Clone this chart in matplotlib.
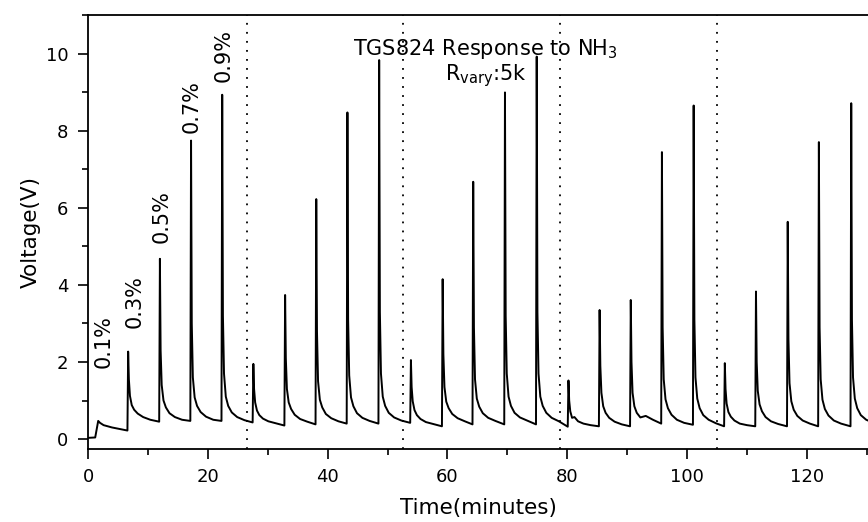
import matplotlib
matplotlib.use("Agg")
import matplotlib.pyplot as plt
from matplotlib.ticker import MultipleLocator

# warm-up segment before the first gas pulse
start_time = [0.0, 1.2, 1.7, 2.0, 2.6, 4.0, 6.5]
start_volt = [0.03, 0.04, 0.47, 0.42, 0.36, 0.30, 0.22]

# gas pulses: time of peak (min), peak voltage, level just before the rise
pulse_time = [6.7, 12.0, 17.2, 22.4, 27.6, 32.9, 38.1, 43.3, 48.6, 53.9, 59.2, 64.3,
              69.6, 74.9, 80.2, 85.4, 90.6, 95.8, 101.1, 106.3, 111.5, 116.8, 122.0, 127.4]
pulse_peak = [2.27, 4.68, 7.75, 8.94, 1.95, 3.74, 6.23, 8.48, 9.84, 2.05, 4.15, 6.68,
              9.00, 9.93, 1.52, 3.35, 3.61, 7.45, 8.66, 1.97, 3.83, 5.64, 7.71, 8.72]
pulse_base = [0.22, 0.45, 0.47, 0.47, 0.43, 0.35, 0.38, 0.40, 0.40, 0.42, 0.33, 0.38,
              0.38, 0.38, 0.32, 0.33, 0.33, 0.40, 0.37, 0.33, 0.33, 0.33, 0.33, 0.33]

# recovery after each peak, read at these minutes after the peak
tail_offset = [0.12, 0.3, 0.6, 1.0, 1.6, 2.5, 3.7]
tail_volt = [
    [1.55, 1.12, 0.88, 0.76, 0.66, 0.57, 0.50],
    [2.30, 1.40, 1.00, 0.82, 0.67, 0.57, 0.50],
    [3.00, 1.60, 1.08, 0.86, 0.70, 0.58, 0.50],
    [3.20, 1.70, 1.10, 0.86, 0.69, 0.57, 0.49],
    [1.30, 0.95, 0.74, 0.62, 0.53, 0.46, 0.41],
    [2.10, 1.30, 0.95, 0.78, 0.63, 0.52, 0.45],
    [2.80, 1.50, 1.02, 0.82, 0.65, 0.54, 0.46],
    [3.10, 1.65, 1.08, 0.85, 0.67, 0.55, 0.47],
    [3.30, 1.70, 1.10, 0.86, 0.68, 0.56, 0.48],
    [1.35, 0.98, 0.75, 0.62, 0.52, 0.44, 0.39],
    [2.20, 1.35, 0.97, 0.80, 0.65, 0.54, 0.46],
    [2.90, 1.55, 1.05, 0.84, 0.67, 0.55, 0.47],
    [3.20, 1.70, 1.10, 0.86, 0.68, 0.56, 0.48],
    [3.30, 1.70, 1.10, 0.86, 0.68, 0.55, 0.46],
    [1.00, 0.72, 0.55, 0.57, 0.46, 0.40, 0.36],
    [1.90, 1.20, 0.85, 0.68, 0.55, 0.45, 0.38],
    [2.00, 1.20, 0.85, 0.68, 0.56, 0.60, 0.50],
    [2.90, 1.55, 1.03, 0.80, 0.63, 0.50, 0.42],
    [3.10, 1.60, 1.05, 0.80, 0.62, 0.50, 0.41],
    [1.30, 0.92, 0.70, 0.58, 0.48, 0.40, 0.36],
    [2.00, 1.25, 0.90, 0.72, 0.57, 0.46, 0.39],
    [2.60, 1.45, 0.98, 0.76, 0.60, 0.48, 0.40],
    [2.90, 1.55, 1.02, 0.78, 0.61, 0.48, 0.40],
    [3.10, 1.60, 1.05, 0.80, 0.62, 0.50, 0.42],
]

cycle_marks = [26.5, 52.6, 78.8, 105.0]
conc_labels = ["0.1%", "0.3%", "0.5%", "0.7%", "0.9%"]
conc_x = [2.6, 7.85, 12.3, 17.3, 22.6]
conc_y = [1.85, 2.88, 5.08, 7.94, 9.28]

times = list(start_time)
volts = list(start_volt)
for tp, peak, base, tail in zip(pulse_time, pulse_peak, pulse_base, tail_volt):
    times += [tp - 0.12, tp] + [tp + o for o in tail_offset]
    volts += [base, peak] + tail

plt.rcParams["font.family"] = ["DejaVu Sans"]
fig = plt.figure(figsize=(8.68, 5.22), dpi=100)
ax = fig.add_axes([0.1014, 0.1398, 0.8986, 0.8314])

ax.plot(times, volts, color="black", lw=1.4)
for xm in cycle_marks:
    ax.axvline(xm, color="black", lw=1.3, linestyle=(0, (1, 4)))

for lab, x, y in zip(conc_labels, conc_x, conc_y):
    ax.text(x, y, lab, rotation=90, ha="center", va="bottom", fontsize=15)

ax.text(66.4, 9.97, "TGS824 Response to NH$_\\mathregular{3}$", ha="center",
        va="baseline", fontsize=15)
ax.text(66.5, 9.3, "R$_\\mathregular{vary}$:5k", ha="center", va="baseline",
        fontsize=15)

ax.set_xlim(0, 130.2)
ax.set_ylim(-0.26, 11.01)
ax.xaxis.set_major_locator(MultipleLocator(20))
ax.xaxis.set_minor_locator(MultipleLocator(10))
ax.yaxis.set_major_locator(MultipleLocator(2))
ax.yaxis.set_minor_locator(MultipleLocator(1))
ax.tick_params(which="major", direction="out", length=7, width=1.2,
               labelsize=13, pad=7)
ax.tick_params(which="minor", direction="out", length=4, width=1.2)
ax.spines["right"].set_visible(False)
for side in ["left", "bottom", "top"]:
    ax.spines[side].set_linewidth(1.3)

ax.set_xlabel("Time(minutes)", fontsize=15.5, labelpad=8)
ax.set_ylabel("Voltage(V)", fontsize=15.5, labelpad=4)

fig.savefig("out.png", dpi=100)
